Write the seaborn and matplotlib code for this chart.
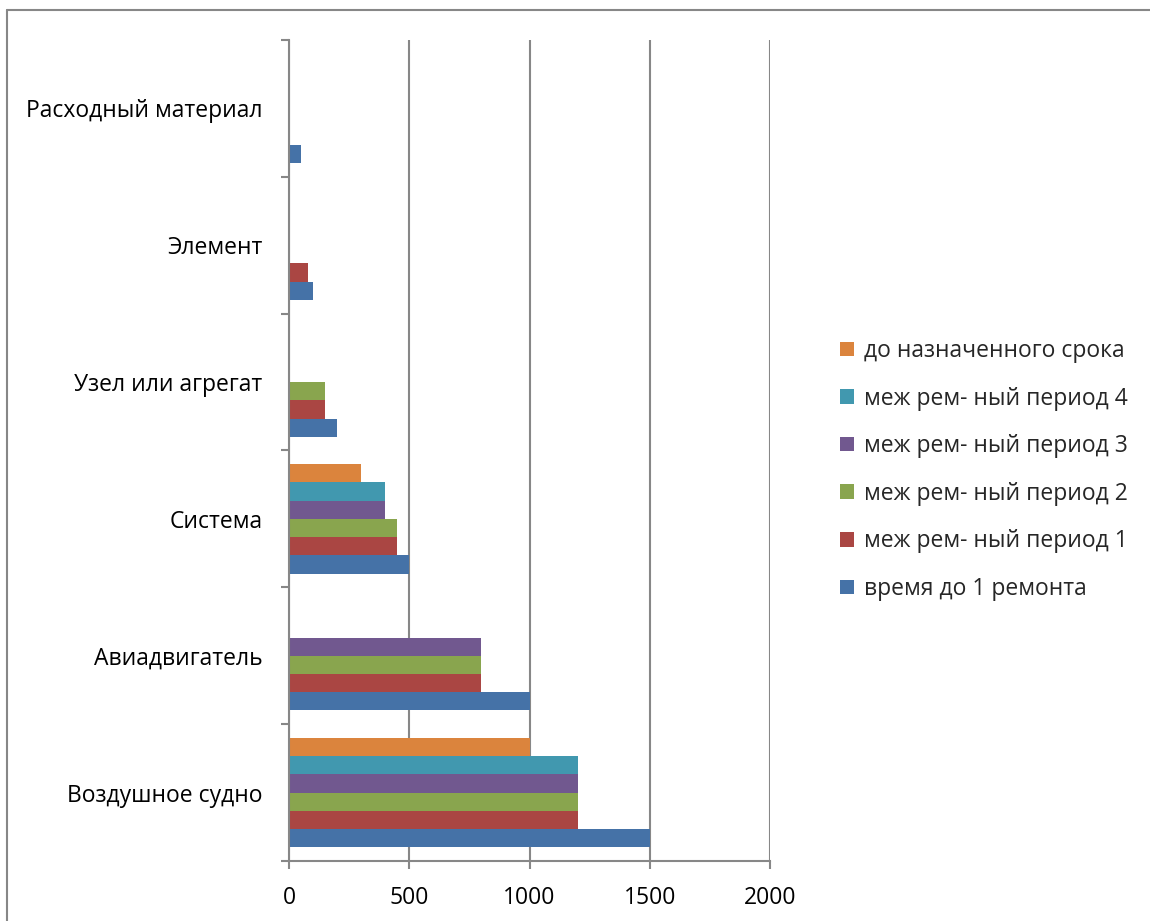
import matplotlib
matplotlib.use("Agg")
import matplotlib.pyplot as plt
import seaborn as sns
import pandas as pd
from matplotlib.patches import Patch
from matplotlib.lines import Line2D
from matplotlib.ticker import FixedLocator

# Categories, listed from the bottom of the chart upwards
categories = ["Воздушное судно", "Авиадвигатель", "Система",
              "Узел или агрегат", "Элемент", "Расходный материал"]

series_names = ["время до 1 ремонта", "меж рем- ный период 1", "меж рем- ный период 2",
                "меж рем- ный период 3", "меж рем- ный период 4", "до назначенного срока"]

time_to_first_repair = [1500, 1000, 500, 200, 100, 50]
period_1 = [1200, 800, 450, 150, 80, 0]
period_2 = [1200, 800, 450, 150, 0, 0]
period_3 = [1200, 800, 400, 0, 0, 0]
period_4 = [1200, 0, 400, 0, 0, 0]
until_assigned_term = [1000, 0, 300, 0, 0, 0]

x_ticks = [0, 500, 1000, 1500, 2000]

colors = ["#4572A7", "#AA4643", "#89A54E", "#71588F", "#4198AF", "#DB843D"]

series_values = [time_to_first_repair, period_1, period_2, period_3, period_4, until_assigned_term]
rows = []
for name, vals in zip(series_names, series_values):
    for cat, v in zip(categories, vals):
        rows.append({"category": cat, "series": name, "value": v})
df = pd.DataFrame(rows)

sns.set_theme(style="white")
plt.rcParams["font.family"] = ["Open Sans", "DejaVu Sans"]
FS = 16.5
GRAY = "#878787"

fig = plt.figure(figsize=(11.5, 9.21), dpi=100)
ax = fig.add_axes([289 / 1150, 1 - 861 / 921, (770 - 289) / 1150, (861 - 40) / 921])

sns.barplot(data=df, y="category", x="value", hue="series", order=categories,
            hue_order=series_names, palette=colors, orient="h", errorbar=None,
            width=0.8, saturation=1, legend=False, linewidth=0, ax=ax)

ax.set_xlim(0, 2000)
ax.set_ylim(-0.5, len(categories) - 0.5)
ax.set_xlabel("")
ax.set_ylabel("")

ax.set_xticks(x_ticks)
ax.set_xticklabels([str(t) for t in x_ticks], fontsize=FS, color="black")
ax.xaxis.grid(True, color=GRAY, linewidth=1.5)
ax.yaxis.grid(False)
ax.set_axisbelow(True)

ax.set_yticks(range(len(categories)))
ax.set_yticklabels(categories, fontsize=FS, color="black")
ax.yaxis.set_minor_locator(FixedLocator([i - 0.5 for i in range(len(categories) + 1)]))
ax.tick_params(axis="y", which="major", length=0, pad=19)
ax.tick_params(axis="y", which="minor", left=True, length=6, width=1.5, color=GRAY)
ax.tick_params(axis="x", which="major", bottom=True, length=6, width=1.5, color=GRAY, pad=12)

for side in ["top", "right"]:
    ax.spines[side].set_visible(False)
for side in ["left", "bottom"]:
    ax.spines[side].set_color(GRAY)
    ax.spines[side].set_linewidth(1.5)

handles = [Patch(facecolor=c, edgecolor="none") for c in colors]
fig.legend(handles[::-1], series_names[::-1], loc="center left",
           bbox_to_anchor=(840 / 1150, 1 - 470 / 921), frameon=False,
           fontsize=FS, handlelength=0.6, handleheight=0.6, handletextpad=0.45,
           labelspacing=1.03, borderpad=0, borderaxespad=0)

# outer chart frame
fig.add_artist(Line2D([7 / 1150, 7 / 1150], [0, 1 - 10 / 921], transform=fig.transFigure,
                      color=GRAY, linewidth=1.5))
fig.add_artist(Line2D([7 / 1150, 1], [1 - 10 / 921, 1 - 10 / 921], transform=fig.transFigure,
                      color=GRAY, linewidth=1.5))

fig.savefig("out.png", dpi=100)
